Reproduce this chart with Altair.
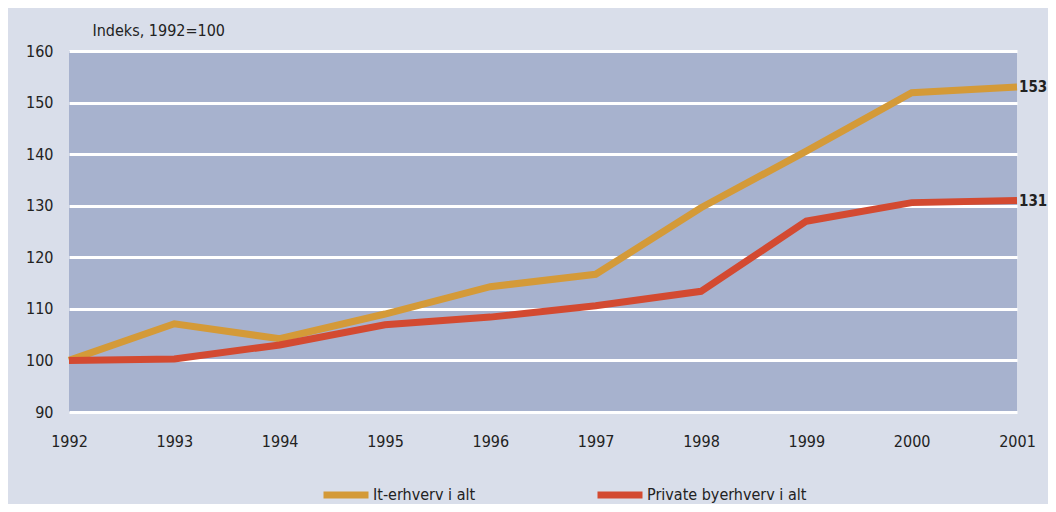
import altair as alt
import pandas as pd

years = [1992, 1993, 1994, 1995, 1996, 1997, 1998, 1999, 2000, 2001]
it_erhverv = [100, 107.1, 104.2, 109.0, 114.3, 116.7, 129.6, 140.6, 151.9, 153.0]
private_by = [100, 100.3, 103.0, 106.9, 108.4, 110.6, 113.4, 127.0, 130.6, 131.0]
series_names = ["It-erhverv i alt", "Private byerhverv i alt"]
colors = ["#d49a38", "#d34a31"]
y_ticks = [90, 100, 110, 120, 130, 140, 150, 160]

rows = []
for y, a, b in zip(years, it_erhverv, private_by):
    rows.append({"year": y, "value": a, "series": series_names[0]})
    rows.append({"year": y, "value": b, "series": series_names[1]})
df = pd.DataFrame(rows)

FONT = "DejaVu Sans Condensed"

x_enc = alt.X("year:Q", scale=alt.Scale(domain=[1992, 2001], nice=False, zero=False),
              axis=alt.Axis(values=years, format="d", title=None, grid=False, domain=False,
                            ticks=False, labelFlush=False, labelPadding=21,
                            labelFontSize=16, labelColor="#222222", labelFont=FONT))
y_enc = alt.Y("value:Q", scale=alt.Scale(domain=[90, 160], nice=False, zero=False),
              axis=alt.Axis(values=y_ticks, title="Indeks, 1992=100", titleAngle=0,
                            titleAlign="left", titleBaseline="alphabetic", titleX=23, titleY=-16,
                            titleFontSize=16, titleFontWeight="normal", titleColor="#222222",
                            titleFont=FONT,
                            grid=True, gridColor="white", gridWidth=3, gridOpacity=1,
                            domain=False, ticks=False, labelPadding=16,
                            labelFontSize=16, labelColor="#222222", labelFont=FONT))

color_enc = alt.Color("series:N",
                      scale=alt.Scale(domain=series_names, range=colors),
                      legend=alt.Legend(title=None, orient="none", direction="horizontal",
                                        legendX=251, legendY=418,
                                        symbolType="stroke", symbolSize=2025,
                                        symbolStrokeWidth=7, labelOffset=1,
                                        columnPadding=107,
                                        labelFontSize=16, labelColor="#222222", labelFont=FONT,
                                        labelLimit=400))

lines = alt.Chart(df).mark_line(strokeWidth=7, strokeCap="butt", strokeJoin="miter").encode(
    x=x_enc, y=y_enc, color=color_enc, order="year:Q")

end_df = df[df["year"] == 2001]
labels = alt.Chart(end_df).mark_text(align="left", baseline="middle", dx=2, fontSize=15,
                                     fontWeight="bold", color="#222222", font=FONT).encode(
    x="year:Q", y="value:Q", text=alt.Text("value:Q", format=".0f"))

chart = (lines + labels).properties(
    width=948, height=361,
    autosize=alt.AutoSizeParams(type="none"),
    padding={"left": 61, "top": 43, "right": 31, "bottom": 92},
    background="#d9deea",
).configure_view(fill="#a7b2ce", stroke=None)

chart.save("out.html", embed_options={"renderer": "svg", "actions": False})
